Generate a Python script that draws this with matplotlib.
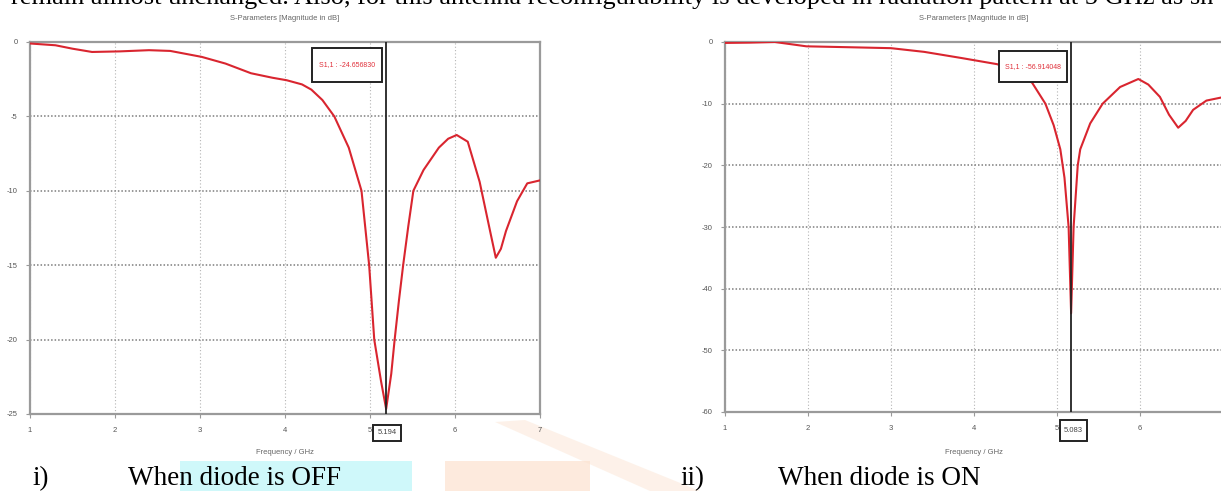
import numpy as np
import matplotlib
matplotlib.use('Agg')
import matplotlib.pyplot as plt
from matplotlib.patches import Rectangle, Polygon

plt.rcParams['axes.unicode_minus'] = False

# S11 when the diode is OFF
off_freq = [1.0, 1.3, 1.5, 1.73, 2.06, 2.4, 2.65, 3.02, 3.3, 3.6, 3.85, 4.02, 4.2,
            4.31, 4.44, 4.58, 4.75, 4.9, 4.99, 5.05, 5.13, 5.19, 5.25, 5.29, 5.34,
            5.39, 5.45, 5.51, 5.63, 5.81, 5.92, 6.02, 6.15, 6.29, 6.42, 6.48, 6.54,
            6.6, 6.73, 6.85, 7.0]
off_db = [-0.1, -0.22, -0.45, -0.67, -0.63, -0.55, -0.6, -1.0, -1.45, -2.1, -2.4,
          -2.57, -2.85, -3.2, -3.9, -5.0, -7.1, -10.0, -15.0, -20.0, -22.8, -24.66,
          -22.3, -20.0, -17.4, -15.0, -12.4, -10.0, -8.6, -7.1, -6.5, -6.25, -6.7,
          -9.4, -12.9, -14.5, -13.9, -12.7, -10.7, -9.5, -9.3]

# S11 when the diode is ON
on_freq = [1.0, 1.3, 1.6, 1.98, 2.5, 3.0, 3.4, 3.85, 4.28, 4.5, 4.70, 4.86, 4.96,
           5.04, 5.09, 5.14, 5.17, 5.20, 5.25, 5.28, 5.4, 5.55, 5.76, 5.98, 6.1,
           6.24, 6.35, 6.46, 6.55, 6.64, 6.8, 6.98]
on_db = [-0.15, -0.1, 0.0, -0.7, -0.85, -1.0, -1.6, -2.6, -3.6, -4.8, -6.6, -10.0,
         -13.5, -17.4, -22.0, -30.0, -44.0, -30.0, -20.0, -17.4, -13.2, -10.0, -7.3,
         -6.0, -6.9, -8.9, -11.8, -13.9, -12.8, -11.0, -9.5, -9.0]

x_ticks = [1, 2, 3, 4, 5, 6, 7]
off_xlabels = ['1', '2', '3', '4', '5', '6', '7']
on_xlabels = ['1', '2', '3', '4', '5', '6', '']   # 7 falls off the scanned page
off_yticks = [0, -5, -10, -15, -20, -25]
on_yticks = [0, -10, -20, -30, -40, -50, -60]

off_cursor, off_cursor_lbl, off_marker = 5.19, '5.194', 'S1,1 : -24.656830'
on_cursor, on_cursor_lbl, on_marker = 5.17, '5.083', 'S1,1 : -56.914048'

W, H = 1221, 491
fig = plt.figure(figsize=(W / 100, H / 100), dpi=100)
serif = 'Liberation Serif'
small = 'Liberation Sans'


def fx(x):
    return x / W


def fy(y):
    return 1 - y / H


def box(x0, y0, x1, y1, text, color, size):
    r = Rectangle((fx(x0), fy(y1)), fx(x1 - x0), (y1 - y0) / H, transform=fig.transFigure,
                  facecolor='white', edgecolor='#222222', lw=1.4, zorder=5)
    fig.add_artist(r)
    fig.text(fx((x0 + x1) / 2), fy((y0 + y1) / 2), text, color=color, fontsize=size,
             family=small, ha='center', va='center', zorder=6)


def sparam_axes(left, right, top, bottom, freq, db, xlabels, yticks, cursor):
    ax = fig.add_axes([fx(left), fy(bottom), fx(right - left), (bottom - top) / H])
    ax.plot(freq, db, color='#d9252f', lw=1.5, zorder=3)
    ax.axvline(cursor, color='#222222', lw=1.3, zorder=4)
    ax.set_xlim(1, 7)
    ax.set_ylim(yticks[-1], 0)
    ax.set_xticks(x_ticks)
    ax.set_yticks(yticks)
    ax.set_xticklabels(xlabels)
    ax.set_yticklabels([str(t) for t in yticks])
    ax.tick_params(labelsize=5.5, labelcolor='#555555', color='#999999', length=3,
                   width=0.8, pad=6)
    for lab in ax.get_xticklabels() + ax.get_yticklabels():
        lab.set_family(small)
    for s in ax.spines.values():
        s.set_color('#9a9a9a')
        s.set_linewidth(1.6)
    ax.xaxis.grid(True, color='#b5b5b5', linestyle=(0, (1, 2)), lw=0.8)
    ax.yaxis.grid(True, color='#7d7d7d', linestyle=(0, (1, 1.3)), lw=1.1)
    ax.set_axisbelow(True)
    cx = (left + right) / 2
    fig.text(fx(cx), fy(19), 'S-Parameters [Magnitude in dB]', fontsize=5.5,
             color='#666666', family=small, ha='center', va='center')
    fig.text(fx(cx), fy(452), 'Frequency / GHz', fontsize=5.5, color='#666666',
             family=small, ha='center', va='center')
    return ax


# background marks from the scanned page
fig.add_artist(Rectangle((fx(180), 0), fx(412 - 180), 30 / H, transform=fig.transFigure,
                         facecolor='#cff8fa', edgecolor='none', zorder=0))
fig.add_artist(Rectangle((fx(445), 0), fx(590 - 445), 30 / H, transform=fig.transFigure,
                         facecolor='#fdeadd', edgecolor='none', zorder=0))
fig.add_artist(Polygon([(fx(495), fy(422)), (fx(525), fy(420)), (fx(700), fy(491)),
                        (fx(650), fy(491))], closed=True, transform=fig.transFigure,
                       facecolor='#fbe2cf', edgecolor='none', alpha=0.45, zorder=0))

ax1 = sparam_axes(30, 540, 42, 414, off_freq, off_db, off_xlabels, off_yticks, off_cursor)
ax2 = sparam_axes(725, 1223, 42, 412, on_freq, on_db, on_xlabels, on_yticks, on_cursor)

box(312, 48, 382, 82, off_marker, '#e0303a', 5)
box(999, 51, 1067, 82, on_marker, '#e0303a', 5)
box(373, 425, 401, 441, off_cursor_lbl, '#444444', 5.5)
box(1060, 420, 1087, 441, on_cursor_lbl, '#444444', 5.5)

# bottom of the body text line above the figure, cut by the scan
fig.text(fx(11), fy(4), 'remain almost unchanged. Also, for this antenna reconfigurability '
         'is developed in radiation pattern at 5 GHz as sh', fontsize=19, family=serif,
         va='baseline', ha='left')

fig.text(fx(32), fy(485), 'i)', fontsize=19.5, family=serif, va='baseline')
fig.text(fx(128), fy(485), 'When diode is OFF', fontsize=19.5, family=serif, va='baseline')
fig.text(fx(680), fy(485), 'ii)', fontsize=19.5, family=serif, va='baseline')
fig.text(fx(778), fy(485), 'When diode is ON', fontsize=19.5, family=serif, va='baseline')

fig.savefig('out.png', dpi=100)
